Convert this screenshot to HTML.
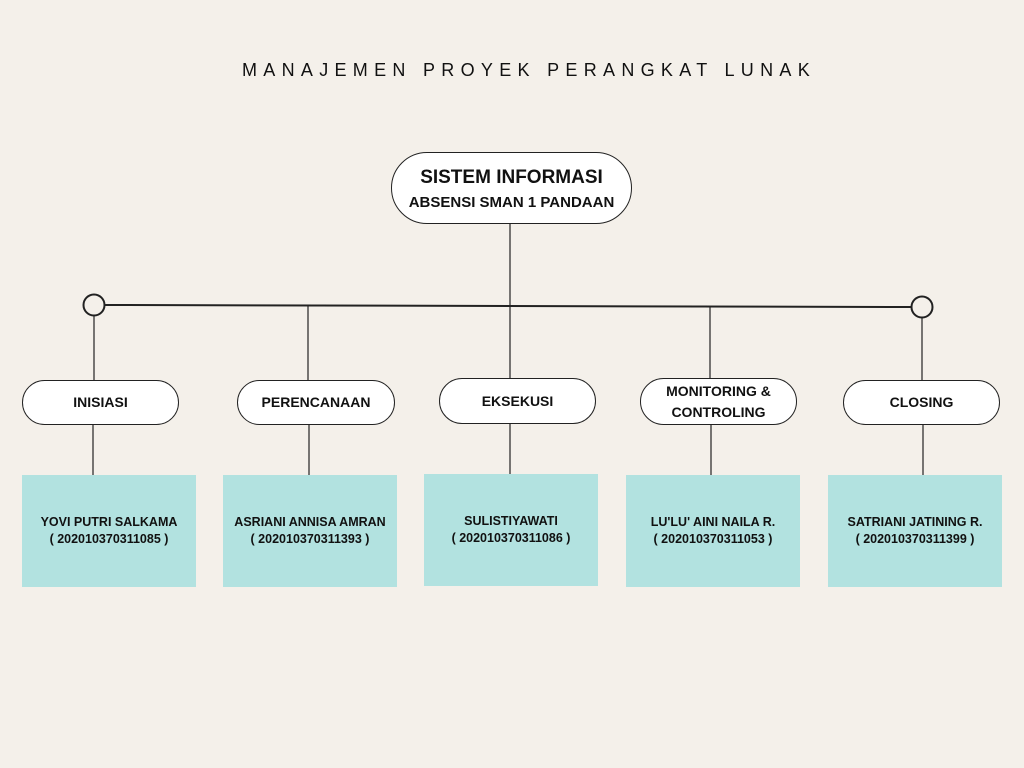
<!DOCTYPE html>
<html><head><meta charset="utf-8"><style>
body{margin:0;width:1024px;height:768px;background:#f4f0ea;position:relative;overflow:hidden;font-family:"Liberation Sans",sans-serif;}
.a{position:absolute;}
.t{left:0;width:1058px;top:60px;text-align:center;font-size:18px;letter-spacing:6.3px;color:#111;}
.pill{position:absolute;background:#fff;border:1.3px solid #222;border-radius:24px;box-sizing:border-box;display:flex;align-items:center;justify-content:center;text-align:center;font-weight:bold;font-size:14px;color:#111;line-height:21px;}
.box{position:absolute;background:#b2e2e0;width:174px;height:112px;display:flex;align-items:center;justify-content:center;text-align:center;font-weight:bold;font-size:12.5px;line-height:17px;color:#111;}
</style></head><body>
<div class="a t">MANAJEMEN PROYEK PERANGKAT LUNAK</div>
<svg class="a" style="left:0;top:0" width="1024" height="768">
<g stroke="#222" stroke-width="1.2" fill="none">
<line x1="510" y1="224" x2="510" y2="378"/>
<line x1="105" y1="305" x2="911" y2="307" stroke-width="2"/>
<line x1="94" y1="316" x2="94" y2="380"/>
<line x1="308" y1="306" x2="308" y2="380"/>
<line x1="710" y1="306" x2="710" y2="378"/>
<line x1="922" y1="318" x2="922" y2="380"/>
<line x1="93" y1="425" x2="93" y2="475"/>
<line x1="309" y1="425" x2="309" y2="475"/>
<line x1="510" y1="424" x2="510" y2="474"/>
<line x1="711" y1="425" x2="711" y2="475"/>
<line x1="923" y1="425" x2="923" y2="475"/>
<circle cx="94" cy="305" r="10.5" stroke-width="2"/>
<circle cx="922" cy="307" r="10.5" stroke-width="2"/>
</g></svg>
<div class="pill" style="left:391px;top:152px;width:241px;height:72px;border-radius:36px;flex-direction:column;line-height:25px;padding-top:4px;"><span style="font-size:19px">SISTEM INFORMASI</span><span style="font-size:15px">ABSENSI SMAN 1 PANDAAN</span></div>
<div class="pill" style="left:22px;top:380px;width:157px;height:45px;">INISIASI</div>
<div class="pill" style="left:237px;top:380px;width:158px;height:45px;">PERENCANAAN</div>
<div class="pill" style="left:439px;top:378px;width:157px;height:46px;">EKSEKUSI</div>
<div class="pill" style="left:640px;top:378px;width:157px;height:47px;">MONITORING &amp;<br>CONTROLING</div>
<div class="pill" style="left:843px;top:380px;width:157px;height:45px;">CLOSING</div>
<div class="box" style="left:22px;top:475px;">YOVI PUTRI SALKAMA<br>( 202010370311085 )</div>
<div class="box" style="left:223px;top:475px;">ASRIANI ANNISA AMRAN<br>( 202010370311393 )</div>
<div class="box" style="left:424px;top:474px;">SULISTIYAWATI<br>( 202010370311086 )</div>
<div class="box" style="left:626px;top:475px;">LU'LU' AINI NAILA R.<br>( 202010370311053 )</div>
<div class="box" style="left:828px;top:475px;">SATRIANI JATINING R.<br>( 202010370311399 )</div>
</body></html>
